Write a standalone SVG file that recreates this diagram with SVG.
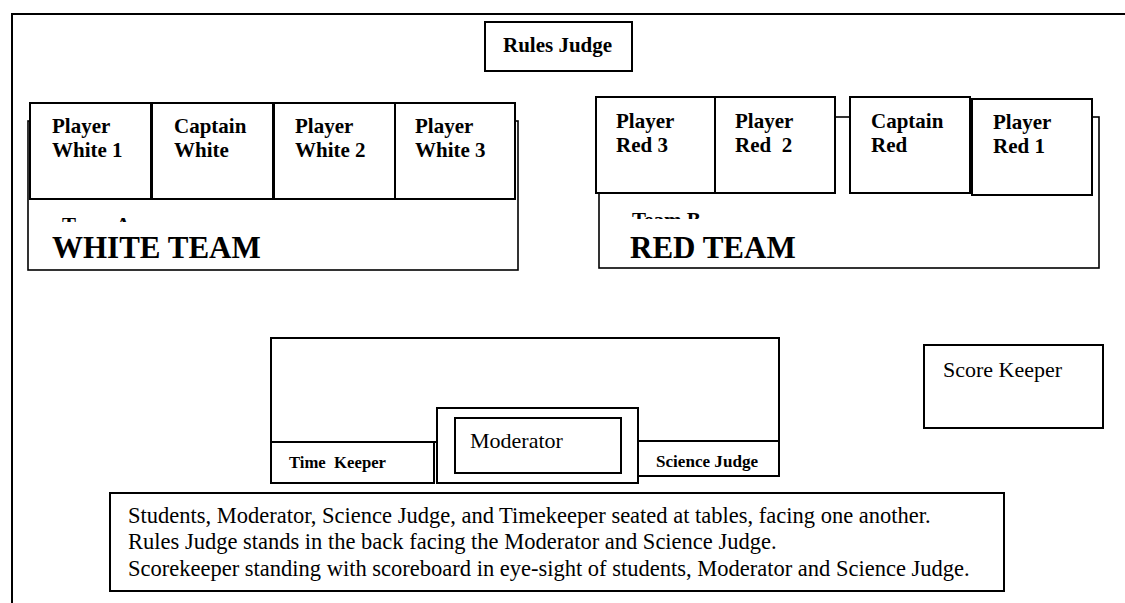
<svg xmlns="http://www.w3.org/2000/svg" width="1125" height="603" viewBox="0 0 1125 603">
<style>
  .box { fill: #fff; stroke: #000; stroke-width: 2; }
  .thin { fill: #fff; stroke: #000; stroke-width: 1.6; }
  .frame { fill: none; stroke: #000; stroke-width: 2; }
  text { font-family: "Liberation Serif", "Times New Roman", serif; fill: #000; white-space: pre; }
  .pl { font-size: 21px; font-weight: bold; }
  .big { font-size: 31px; font-weight: bold; }
  .reg { font-size: 22px; }
  .note { font-size: 22.5px; }
  .sm { font-size: 16px; font-weight: bold; }
</style>
<defs>
  <clipPath id="clipA"><rect x="40" y="200" width="200" height="22"/></clipPath>
  <clipPath id="clipB"><rect x="610" y="200" width="200" height="19"/></clipPath>
</defs>
<rect x="0" y="0" width="1125" height="603" fill="#fff"/>
<path class="frame" d="M12,603 V14 H1125"/>

<g id="rules-judge">
  <rect class="box" x="485" y="22" width="147" height="49"/>
  <text class="pl" x="503" y="52">Rules Judge</text>
</g>

<g id="white-team">
  <rect class="thin" x="28" y="121" width="490" height="149"/>
  <text class="pl" x="62" y="232" clip-path="url(#clipA)">Team A</text>
  <text class="big" x="52" y="258">WHITE TEAM</text>
</g>
<g id="player-white-1">
  <rect class="box" x="30" y="103" width="121" height="96"/>
  <text class="pl" x="52" y="133">Player</text>
  <text class="pl" x="52" y="157">White 1</text>
</g>
<g id="captain-white">
  <rect class="box" x="152" y="103" width="121" height="96"/>
  <text class="pl" x="174" y="133">Captain</text>
  <text class="pl" x="174" y="157">White</text>
</g>
<g id="player-white-2">
  <rect class="box" x="274" y="103" width="121" height="96"/>
  <text class="pl" x="295" y="133">Player</text>
  <text class="pl" x="295" y="157">White 2</text>
</g>
<g id="player-white-3">
  <rect class="box" x="395" y="103" width="120" height="96"/>
  <text class="pl" x="415" y="133">Player</text>
  <text class="pl" x="415" y="157">White 3</text>
</g>

<g id="red-team">
  <rect class="thin" x="599" y="117" width="500" height="151"/>
  <text class="pl" x="632" y="227" clip-path="url(#clipB)">Team B</text>
  <text class="big" x="630" y="258">RED TEAM</text>
</g>
<g id="player-red-3">
  <rect class="box" x="596" y="97" width="119" height="96"/>
  <text class="pl" x="616" y="128">Player</text>
  <text class="pl" x="616" y="152">Red 3</text>
</g>
<g id="player-red-2">
  <rect class="box" x="715" y="97" width="120" height="96"/>
  <text class="pl" x="735" y="128">Player</text>
  <text class="pl" x="735" y="152">Red  2</text>
</g>
<g id="captain-red">
  <rect class="box" x="850" y="97" width="120" height="96"/>
  <text class="pl" x="871" y="128">Captain</text>
  <text class="pl" x="871" y="152">Red</text>
</g>
<g id="player-red-1">
  <rect class="box" x="972" y="99" width="120" height="96"/>
  <text class="pl" x="993" y="129">Player</text>
  <text class="pl" x="993" y="153">Red 1</text>
</g>

<g id="table">
  <rect class="box" x="271" y="338" width="508" height="104"/>
</g>
<g id="time-keeper">
  <rect class="box" x="271" y="442" width="163" height="41"/>
  <text class="sm" x="289" y="468" textLength="97" lengthAdjust="spacingAndGlyphs">Time  Keeper</text>
</g>
<g id="science-judge">
  <rect class="box" x="638" y="441" width="141" height="35"/>
  <text class="sm" x="656" y="467" textLength="102" lengthAdjust="spacingAndGlyphs">Science Judge</text>
</g>
<g id="moderator">
  <rect class="box" x="437" y="408" width="201" height="75"/>
  <rect class="box" x="455" y="418" width="166" height="55"/>
  <text class="reg" x="470" y="448">Moderator</text>
</g>

<g id="score-keeper">
  <rect class="box" x="924" y="345" width="179" height="83"/>
  <text class="reg" x="943" y="377">Score Keeper</text>
</g>

<g id="notes">
  <rect class="box" x="110" y="493" width="894" height="98"/>
  <text class="note" x="128" y="523">Students, Moderator, Science Judge, and Timekeeper seated at tables, facing one another.</text>
  <text class="note" x="128" y="549">Rules Judge stands in the back facing the Moderator and Science Judge.</text>
  <text class="note" x="128" y="576">Scorekeeper standing with scoreboard in eye-sight of students, Moderator and Science Judge.</text>
</g>
<g id="connectors"></g>
</svg>
